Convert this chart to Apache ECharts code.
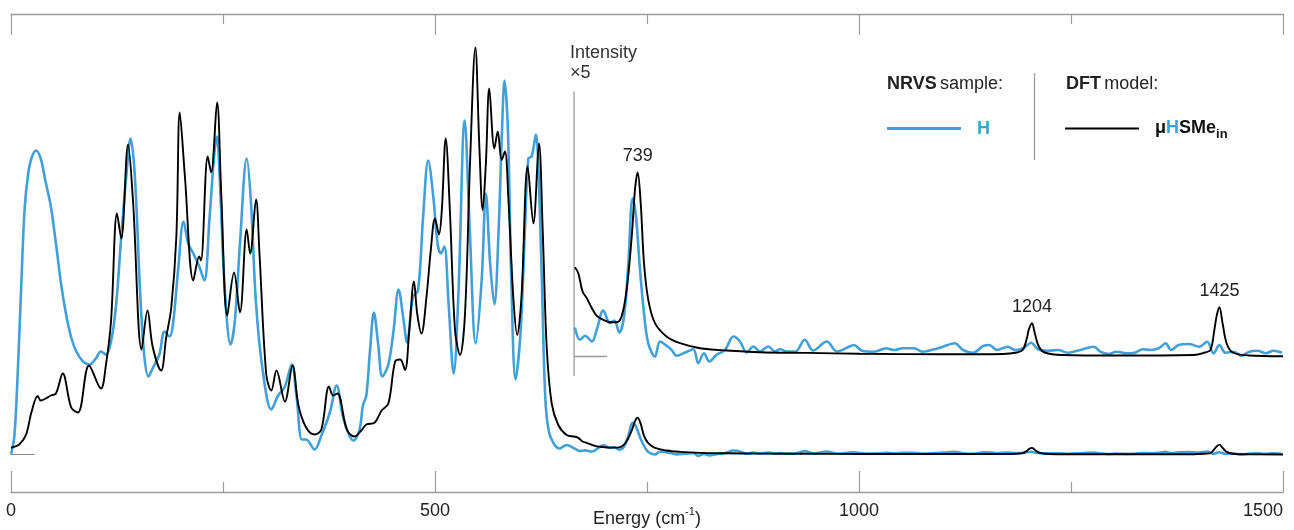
<!DOCTYPE html>
<html>
<head>
<meta charset="utf-8">
<script src="https://cdn.jsdelivr.net/npm/echarts@6/dist/echarts.min.js"></script>
<style>
html,body{margin:0;padding:0;background:#fff;}
#c{width:1294px;height:530px;}
</style>
</head>
<body>
<div id="c"></div>
<script>
// ---------------- DATA ----------------
// Energy (cm-1) vs intensity (arbitrary units, main scale)
const nrvsH = [
 [0,0],[4,18.7],[8,82.9],[12,167],[16,245],[20,279],[24,296],[29.5,304],[35,296],[41,272],[47,248],[53,211],[59,171],[65,140],[71,117],[77,103],[85,93],[92.5,90],[100,96],[106,103],[112,100],[118,113],[124,150],[130,218],[136,279],[141,316],[146,279],[152,167],[157,100],[162,78],[167,86],[175,100],[181,123],[187,118],[191,130],[197,184],[203.5,233],[209,211],[215,201],[222,188],[228,174],[234,235],[240,303],[243,318],[246,279],[252,167],[259,110],[264,134],[270,211],[278,296],[283,252],[289,150],[297,83],[307,45],[315,59],[323,68],[331,90],[337,56],[343,15],[348,15],[358,5],[366,19],[376,42],[384,69],[392,36],[404,14],[411,25],[415,49],[419,59],[423,100],[428,142],[433,110],[438,78],[445,90],[451,123],[457,165],[463,134],[467,112],[474,158],[480,164],[486,238],[492,294],[498,258],[503,211],[507,201],[511,208],[516,151],[522,81],[527.5,158],[535,334],[541,224],[548,111],[555,174],[560,261],[565,191],[570,150],[575,224],[579,324],[582,374],[586,324],[590,174],[595,75],[601,124],[606,224],[610,296],[614,298],[619,320],[622,284],[626,174],[630,58],[634,24],[640,11],[647,6],[655,9.5],
 [665,5.8],[671,3.34],[677,4.14],[685,3.0],[690.7,5.34],[698.5,9.2],[706.4,6.66],[711.5,7.2],[717.3,4.8],[722.9,8.0],[728,18.6],[733,31.6],[737,28.0],[741.7,17.4],[746.5,8.6],[751.5,2.6],[759.4,0.0],[765.3,3.0],[773.2,2.14],[779,1.34],[785,0.14],[795,0.8],[804.6,1.46],[810.5,-1.34],[817.2,0.66],[823.5,-1.0],[832,0.34],[842,1.34],[852,4.0],[859.7,3.0],[867.5,0.8],[875.4,2.0],[883.3,1.0],[893,2.0],[901,1.0],[907,1.46],[915,1.0],[925,1.0],[936,3.34],[946,1.2],[962,3.0],[974,1.0],[989,2.0],[994,2.3],[1003.5,1.16],[1017.8,0.96],[1032,1.64],[1041.6,1.3],[1051,1.64],[1065,1.64],[1075,0.96],[1089,1.44],[1099,1.96],[1113,2.64],[1122.6,1.3],[1134.5,0.76],[1146.4,2.1],[1153.5,2.3],[1163,1.3],[1175,1.96],[1184.5,1.3],[1194,1.64],[1203,2.76],[1211,1.44],[1222.6,1.16],[1234.5,1.3],[1246.4,0.76],[1260.7,1.3],[1268,1.64],[1277,1.96],[1284.5,0.96],[1294,0.5],[1303.6,0.96],[1315.5,0.64],[1325,0.76],[1334.5,1.44],[1344,1.3],[1353.6,1.64],[1361.6,2.64],[1368,1.3],[1377,2.3],[1389,2.5],[1401,1.96],[1410.6,2.96],[1418,0.64],[1425,2.3],[1432,0.76],[1441.6,0.96],[1451,0.16],[1460.6,0.96],[1470,1.16],[1479.6,0.64],[1489,1.16],[1498.7,0.76]
];
const dftModel = [
 [0,6.8],[10,10.2],[18,20.4],[24,42],[31.5,58.5],[35,54],[41,56],[47,59],[53,61],[61,81],[71,47],[79,42],[92,89],[106,66],[112,90],[118,134],[125,241],[130,216],[138,310],[144,252],[154,105],[161,144],[167,108],[177,84],[183,117],[189,147],[195,218],[199,342],[205,279],[215,174],[222,198],[224,194],[232,298],[236,282],[243,352],[248,259],[255,139],[263,182],[270,142],[278,225],[282,201],[289,255],[293,201],[301,80],[307,64],[313,84],[323,53],[332,89],[339,49],[348,27],[358,20],[366,25],[375,68],[380,59],[385,61],[396,25],[405,18],[413,24],[419,30],[429,32],[437,44],[445,51],[453,93],[459,95],[464.6,84.5],[469.7,124.5],[475.2,173],[479,141],[484,121],[490,158],[495,204],[500,236],[504.7,220],[508,244],[512.6,316],[517.7,241],[523.6,124.5],[529.5,99.5],[535.4,141],[541.3,291],[547.6,407],[552.3,308],[556.2,244.5],[560,291],[564,366],[570,306],[574,323],[578.6,294.5],[582.5,303],[586.4,258],[592.3,158],[597,119.5],[602,158],[609.3,288],[616,231],[622.6,311],[627,224.5],[631.7,108],[637.6,51],[645.4,29.5],[655.3,19.5],
 [665,17.86],[669,16.66],[674,13.0],[679,11.66],[685,9.66],[690.7,8.14],[698.5,7.34],[706.4,6.86],[714.2,6.86],[720,8.0],[726,13.34],[732,24.0],[735.8,33.34],[739,36.8],[742.6,30.6],[746.5,18.6],[751.5,11.34],[759.4,6.66],[773,4.0],[789,2.66],[812.5,1.66],[844,1.2],[883,0.86],[940,0.72],[1001,0.54],[1100,0.44],[1170,0.5],[1186,0.8],[1193,1.3],[1198,3.66],[1200.2,5.34],[1204,6.64],[1207.3,4.66],[1212,2.0],[1219,0.8],[1240,0.3],[1300,0.2],[1395,0.3],[1408,0.8],[1414.5,1.3],[1419.3,5.6],[1422,8.3],[1425,9.84],[1428.8,6.6],[1433.6,2.6],[1440.7,0.8],[1460,0.2],[1500,0.06]
];
const peakLabels = [739, 1204, 1425];
const xTicks = [0, 500, 1000, 1500];

// inset (x5 magnification, shifted upward)
const INSET_START = 664;
const INSET_SCALE = 5;
const INSET_OFFSET = 98;
const INSET_AXIS_RANGE = [-19.5, 265];
const INSET_ZERO_END = 703;
const MAIN_ZERO_END = 28;

// ---------------- CHART ----------------
const BLUE = '#41a0d7';
const FONT = '"Liberation Sans", Arial, Helvetica, sans-serif';

const inset = arr => arr.filter(p => p[0] >= INSET_START).map(p => [p[0], INSET_OFFSET + INSET_SCALE * p[1]]);
const insetBlack = inset(dftModel);
const insetBlue = inset(nrvsH);

const peakMarks = peakLabels.map(e => {
  let best = null;
  insetBlack.forEach(p => { if (Math.abs(p[0] - e) <= 5 && (!best || p[1] > best[1])) best = p; });
  return { coord: [e, best[1]], value: e };
});

const chart = echarts.init(document.getElementById('c'));
const axisGray = '#9a9a9a';
const xAxisBase = {
  type: 'value', min: 0, max: 1500, interval: 500,
  axisLine: { show: true, onZero: false, lineStyle: { color: axisGray, width: 1.3 } },
  axisTick: { show: true, inside: true, length: 21, lineStyle: { color: axisGray, width: 1.2 } },
  minorTick: { show: true, splitNumber: 2, length: 10, lineStyle: { color: axisGray, width: 1.2 } },
  splitLine: { show: false }, minorSplitLine: { show: false }
};

chart.setOption({
  animation: false,
  textStyle: { fontFamily: FONT },
  grid: { left: 11, right: 11, top: 14, bottom: 38, containLabel: false, outerBoundsMode: 'none' },
  xAxis: [
    Object.assign({}, xAxisBase, {
      position: 'bottom',
      axisLabel: { show: true, margin: 10, fontSize: 18, color: '#222', fontFamily: FONT,
        alignMaxLabel: 'right', customValues: xTicks, formatter: v => String(v) },
      name: '{a|Energy (cm}{s|-1}{a|)}',
      nameLocation: 'middle', nameGap: 14, nameMoveOverlap: false,
      nameTextStyle: { rich: {
        a: { fontSize: 18, color: '#222', fontFamily: FONT, verticalAlign: 'bottom', lineHeight: 22 },
        s: { fontSize: 11, color: '#222', fontFamily: FONT, verticalAlign: 'top', lineHeight: 22 }
      } }
    }),
    Object.assign({}, xAxisBase, { position: 'top', axisLabel: { show: false } })
  ],
  yAxis: { type: 'value', min: -37.5, max: 440.5, show: false },
  graphic: [
    { type: 'text', left: 570, top: 44, style: { text: 'Intensity', font: '18px ' + FONT, fill: '#333' } },
    { type: 'text', left: 570, top: 64, style: { text: '×5', font: '18px ' + FONT, fill: '#333' } },
    { type: 'text', left: 887, top: 75, style: { text: '{b|NRVS} {r|sample:}', rich: {
        b: { fontSize: 18, fontWeight: 'bold', fill: '#222', fontFamily: FONT },
        r: { fontSize: 18, fill: '#222', fontFamily: FONT } } } },
    { type: 'line', shape: { x1: 887, y1: 128.5, x2: 961, y2: 128.5 }, style: { stroke: BLUE, lineWidth: 3 } },
    { type: 'text', left: 977, top: 120, style: { text: 'H', font: 'bold 18px ' + FONT, fill: BLUE } },
    { type: 'line', shape: { x1: 1034.5, y1: 73, x2: 1034.5, y2: 160 }, style: { stroke: '#999', lineWidth: 1.3 } },
    { type: 'text', left: 1066, top: 75, style: { text: '{b|DFT} {r|model:}', rich: {
        b: { fontSize: 18, fontWeight: 'bold', fill: '#222', fontFamily: FONT },
        r: { fontSize: 18, fill: '#222', fontFamily: FONT } } } },
    { type: 'line', shape: { x1: 1065, y1: 128.5, x2: 1139, y2: 128.5 }, style: { stroke: '#000', lineWidth: 2.2 } },
    { type: 'text', left: 1155, top: 119, style: { text: '{k|μ}{h|H}{k|SMe}{s|in}', rich: {
        k: { fontSize: 18, fontWeight: 'bold', fill: '#111', fontFamily: FONT, verticalAlign: 'top', lineHeight: 22 },
        h: { fontSize: 18, fontWeight: 'bold', fill: BLUE, fontFamily: FONT, verticalAlign: 'top', lineHeight: 22 },
        s: { fontSize: 13, fontWeight: 'bold', fill: '#111', fontFamily: FONT, verticalAlign: 'bottom', lineHeight: 22 } } } }
  ],
  series: [
    { name: 'main zero', type: 'line', data: [[0, 0], [MAIN_ZERO_END, 0]], showSymbol: false, silent: true,
      lineStyle: { color: '#888', width: 1.2 }, z: 1 },
    { name: 'inset axis', type: 'line',
      data: [[INSET_START, INSET_OFFSET + INSET_AXIS_RANGE[1]], [INSET_START, INSET_OFFSET + INSET_AXIS_RANGE[0]]],
      showSymbol: false, silent: true, lineStyle: { color: '#999', width: 1.3 }, z: 1 },
    { name: 'inset zero', type: 'line', data: [[INSET_START, INSET_OFFSET], [INSET_ZERO_END, INSET_OFFSET]],
      showSymbol: false, silent: true, lineStyle: { color: '#999', width: 1.3 }, z: 1 },
    { name: 'H', type: 'line', data: nrvsH, smooth: 0.35, showSymbol: false,
      lineStyle: { color: BLUE, width: 2.6 }, z: 2 },
    { name: 'μHSMe_in', type: 'line', data: dftModel, smooth: 0.35, showSymbol: false,
      lineStyle: { color: '#000', width: 1.9 }, z: 3 },
    { name: 'H x5', type: 'line', data: insetBlue, smooth: 0.35, showSymbol: false,
      lineStyle: { color: BLUE, width: 2.6 }, z: 2 },
    { name: 'μHSMe_in x5', type: 'line', data: insetBlack, smooth: 0.35, showSymbol: false,
      lineStyle: { color: '#000', width: 1.9 }, z: 3,
      markPoint: { symbol: 'circle', symbolSize: 1, itemStyle: { color: 'rgba(0,0,0,0)' },
        label: { show: true, position: 'top', distance: 7, fontSize: 18, color: '#222', fontFamily: FONT,
          formatter: p => String(p.value) },
        data: peakMarks } }
  ]
});
</script>
</body>
</html>
